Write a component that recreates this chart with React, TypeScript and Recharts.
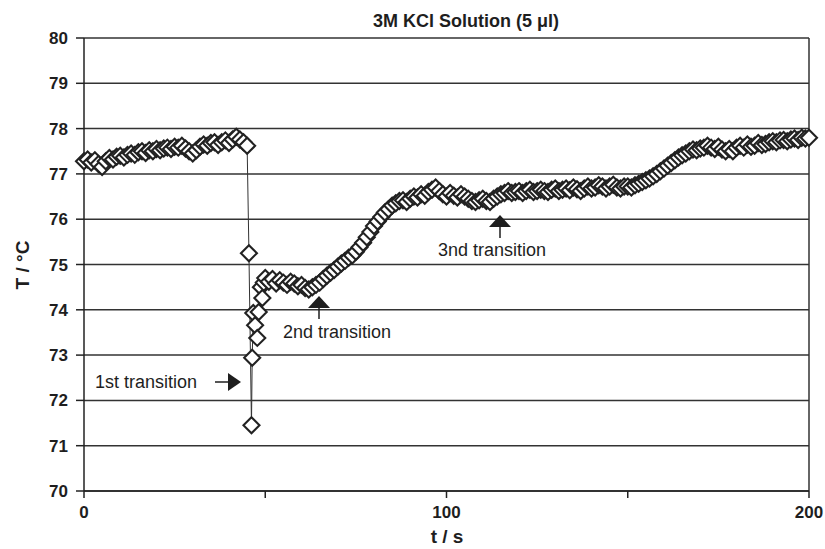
import React from "react";
import {
  LineChart,
  Line,
  XAxis,
  YAxis,
  CartesianGrid,
  ReferenceLine,
} from "recharts";

// time (s) and temperature (°C)
const plateauTimes = [
  0, 1, 2, 3, 4, 5, 6, 7, 8, 9, 10, 11, 12, 13, 14, 15, 16, 17, 18, 19, 20, 21, 22,
  23, 24, 25, 26, 27, 28, 29, 30, 31, 32, 33, 34, 35, 36, 37, 38, 39, 40, 41, 42, 43,
  44, 45,
];
const plateauTemps = [
  77.28, 77.32, 77.25, 77.3, 77.22, 77.15, 77.28, 77.35, 77.32, 77.38, 77.4, 77.36,
  77.42, 77.45, 77.42, 77.48, 77.5, 77.46, 77.52, 77.5, 77.55, 77.52, 77.56, 77.58,
  77.55, 77.6, 77.58, 77.62, 77.56, 77.5, 77.45, 77.52, 77.6, 77.65, 77.62, 77.68,
  77.7, 77.64, 77.7, 77.74, 77.68, 77.76, 77.82, 77.76, 77.7, 77.62,
];

const dropTimes = [45.5, 46.2, 46.4, 46.7, 47.2, 47.8, 48.2, 48.8, 49.2, 49.6];
const dropTemps = [75.25, 71.45, 72.94, 73.93, 73.66, 73.38, 73.95, 74.5, 74.26, 74.6];

const recoveryTimes = [
  50, 51, 52, 53, 54, 55, 56, 57, 58, 59, 60, 61, 62, 63, 64, 65, 66, 67, 68, 69, 70,
  71, 72, 73, 74, 75, 76, 77, 78, 79, 80, 81, 82, 83, 84, 85, 86, 87, 88, 89, 90, 91,
  92, 93, 94, 95, 96, 97, 98, 99, 100, 101, 102, 103, 104, 105, 106, 107, 108, 109,
  110, 111, 112, 113, 114, 115, 116, 117, 118, 119, 120, 121, 122, 123, 124, 125, 126,
  127, 128, 129, 130, 131, 132, 133, 134, 135, 136, 137, 138, 139, 140, 141, 142, 143,
  144, 145, 146, 147, 148, 149, 150, 151, 152, 153, 154, 155, 156, 157, 158, 159, 160,
  161, 162, 163, 164, 165, 166, 167, 168, 169, 170, 171, 172, 173, 174, 175, 176, 177,
  178, 179, 180, 181, 182, 183, 184, 185, 186, 187, 188, 189, 190, 191, 192, 193, 194,
  195, 196, 197, 198, 199, 200,
];
const recoveryTemps = [
  74.7, 74.62, 74.68, 74.58, 74.65, 74.6, 74.55, 74.62, 74.58, 74.52, 74.55, 74.48,
  74.45, 74.5, 74.55, 74.6, 74.68, 74.75, 74.82, 74.88, 74.95, 75.02, 75.08, 75.15,
  75.2, 75.28, 75.38, 75.48, 75.6, 75.72, 75.85, 75.95, 76.05, 76.15, 76.22, 76.3,
  76.35, 76.4, 76.42, 76.38, 76.45, 76.5, 76.48, 76.55, 76.52, 76.6, 76.65, 76.7,
  76.62, 76.55, 76.5, 76.58, 76.52, 76.48, 76.55, 76.5, 76.45, 76.4, 76.38, 76.42,
  76.45, 76.4, 76.38, 76.45, 76.5, 76.55, 76.58, 76.62, 76.58, 76.6, 76.62, 76.58,
  76.62, 76.65, 76.6, 76.62, 76.65, 76.62, 76.6, 76.65, 76.68, 76.62, 76.65, 76.68,
  76.64, 76.7, 76.66, 76.62, 76.68, 76.72, 76.68, 76.7, 76.75, 76.72, 76.68, 76.72,
  76.76, 76.7, 76.68, 76.72, 76.72, 76.7, 76.75, 76.78, 76.82, 76.86, 76.9, 76.95, 77.0,
  77.06, 77.12, 77.18, 77.24, 77.3, 77.36, 77.41, 77.45, 77.5, 77.54, 77.52, 77.56,
  77.58, 77.62, 77.58, 77.55, 77.6, 77.54, 77.5, 77.55, 77.5, 77.58, 77.62, 77.58,
  77.65, 77.6, 77.62, 77.68, 77.64, 77.66, 77.7, 77.72, 77.7, 77.74, 77.75, 77.72,
  77.76, 77.78, 77.75, 77.8, 77.78, 77.8,
];

const xTicks = [0, 50, 100, 150, 200];
const xTickLabels = ["0", "", "100", "", "200"];
const yTicks = [70, 71, 72, 73, 74, 75, 76, 77, 78, 79, 80];

const times = [...plateauTimes, ...dropTimes, ...recoveryTimes];
const temps = [...plateauTemps, ...dropTemps, ...recoveryTemps];
const data = times.map((t, i) => ({ t, T: temps[i] }));

const FONT = "'Liberation Sans', Arial, Helvetica, sans-serif";
const INK = "#1e1e1e";

const Diamond = (props: any) => {
  const { cx, cy, index } = props;
  if (cx == null || cy == null) return <g key={`d-${index}`} />;
  const r = 8;
  return (
    <path
      key={`d-${index}`}
      d={`M${cx},${cy - r}L${cx + r},${cy}L${cx},${cy + r}L${cx - r},${cy}Z`}
      fill="#fff"
      stroke="#222"
      strokeWidth={2.1}
    />
  );
};

export default function App() {
  return (
    <div
      style={{
        position: "absolute",
        left: 0,
        top: 0,
        width: 825,
        height: 549,
        background: "#fff",
        fontFamily: FONT,
      }}
    >
      <LineChart
        width={825}
        height={549}
        data={data}
        margin={{ top: 38, right: 16, bottom: 28, left: 0 }}
      >
        <CartesianGrid vertical={false} stroke="#333" strokeWidth={1.5} />
        <XAxis
          dataKey="t"
          type="number"
          domain={[0, 200]}
          ticks={xTicks}
          tickFormatter={(v: number) => xTickLabels[xTicks.indexOf(v)] ?? ""}
          tickSize={7}
          tickMargin={8}
          height={30}
          stroke="#222"
          axisLine={{ stroke: "#222", strokeWidth: 1.5 }}
          tickLine={{ stroke: "#222", strokeWidth: 1.5 }}
          tick={{ fontSize: 17, fontWeight: "bold", fill: INK, fontFamily: FONT }}
        />
        <YAxis
          type="number"
          domain={[70, 80]}
          ticks={yTicks}
          width={84}
          tickSize={8}
          tickMargin={8}
          axisLine={{ stroke: "#222", strokeWidth: 1.5 }}
          tickLine={{ stroke: "#222", strokeWidth: 1.5 }}
          tick={{ fontSize: 17, fontWeight: "bold", fill: INK, fontFamily: FONT }}
        />
        <ReferenceLine x={200} stroke="#333" strokeWidth={1.5} />
        <Line
          dataKey="T"
          type="linear"
          stroke="#333"
          strokeWidth={1}
          dot={Diamond}
          activeDot={false}
          isAnimationActive={false}
        />
      </LineChart>

      {/* title, axis titles and the transition notes */}
      <svg
        width={825}
        height={549}
        style={{ position: "absolute", left: 0, top: 0, pointerEvents: "none" }}
      >
        <text x={466} y={27} textAnchor="middle" fontSize={18} fontWeight="bold" fill={INK} fontFamily={FONT}>
          3M KCl Solution (5 μl)
        </text>
        <text x={447} y={543} textAnchor="middle" fontSize={19} fontWeight="bold" fill={INK} fontFamily={FONT}>
          t / s
        </text>
        <text
          x={0}
          y={0}
          transform="translate(29,265) rotate(-90)"
          textAnchor="middle"
          fontSize={19}
          fontWeight="bold"
          fill={INK}
          fontFamily={FONT}
        >
          T / °C
        </text>

        <g fontSize={18} fill={INK} fontFamily={FONT}>
          <text x={95} y={388}>1st transition</text>
          <text x={283} y={338}>2nd transition</text>
          <text x={438} y={256}>3nd transition</text>
        </g>

        <g stroke={INK} strokeWidth={1.5} fill={INK}>
          <line x1={215} y1={382} x2={229} y2={382} />
          <polygon points="228,373 241,382 228,391" stroke="none" />
          <line x1={319} y1={307} x2={319} y2={319} />
          <polygon points="308,308 319,296 330,308" stroke="none" />
          <line x1={500} y1={226} x2={500} y2={238} />
          <polygon points="489,227 500,215 511,227" stroke="none" />
        </g>
      </svg>
    </div>
  );
}
